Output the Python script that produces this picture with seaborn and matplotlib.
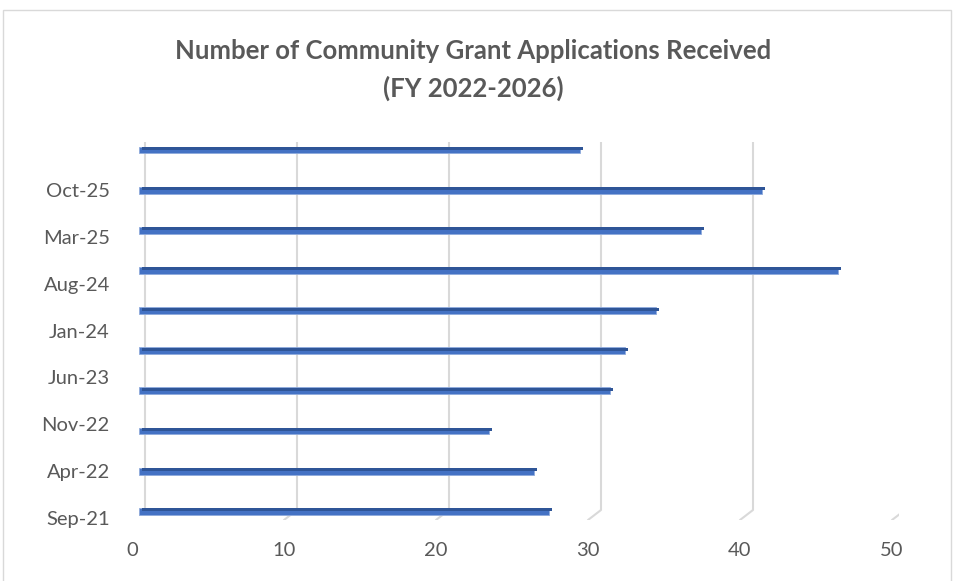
import matplotlib
matplotlib.use("Agg")
import matplotlib.pyplot as plt
import matplotlib.transforms as mtransforms
from matplotlib.patches import Rectangle
import seaborn as sns
import pandas as pd
import numpy as np

# ---- data ----
bar_dates = ["Oct-21", "Apr-22", "Oct-22", "Apr-23", "Oct-23",
             "Apr-24", "Oct-24", "Apr-25", "Oct-25", "Apr-26"]
applications = [27, 26, 23, 31, 32, 34, 46, 37, 41, 29]
tick_dates = ["Sep-21", "Apr-22", "Nov-22", "Jun-23", "Jan-24",
              "Aug-24", "Mar-25", "Oct-25"]
x_ticks = [0, 10, 20, 30, 40, 50]
title = "Number of Community Grant Applications Received\n(FY 2022-2026)"

BASE = pd.Timestamp("2021-09-01")


def month_index(labels):
    d = pd.to_datetime(labels, format="%b-%y")
    return np.array([(t.year - BASE.year) * 12 + t.month - BASE.month for t in d])


df = pd.DataFrame({"date": bar_dates,
                   "month": month_index(bar_dates),
                   "applications": applications})

sns.set_theme(style="white")
plt.rcParams["font.family"] = ["Lato", "DejaVu Sans"]

DPI = 100
fig = plt.figure(figsize=(9.55, 5.81), dpi=DPI)
W, H = 955, 581
ax = fig.add_axes([139 / W, 1 - 520 / H, (899 - 139) / W, (520 - 142) / H])

grid_col = "#D9D9D9"
text_col = "#595959"

# 3D-like gridlines: back wall line plus slanted floor tail
back = mtransforms.offset_copy(ax.get_xaxis_transform(), fig=fig, x=6, y=0, units="dots")
for t in x_ticks:
    ax.plot([t, t], [10 / 378, 1], color=grid_col, lw=1.5, transform=back,
            solid_capstyle="butt", zorder=0)
    ax.plot([t, t - 13 / 15.2], [10 / 378, 0], color=grid_col, lw=1.5,
            transform=back, zorder=0)

# bars (front face)
sns.barplot(data=df, x="applications", y="month", orient="h", native_scale=True,
            width=0.17, color="#4472C4", saturation=1, ax=ax, zorder=3,
            edgecolor="#8FAADC", linewidth=0.6)
# darker top face of each bar, shifted toward the back
top = mtransforms.offset_copy(ax.transData, fig=fig, x=3, y=1.5, units="dots")
ax.barh(df["month"], df["applications"], height=0.45, color="#2F5597",
        transform=top, zorder=4, linewidth=0)

ax.set_xlim(0, 50)
ax.set_ylim(-0.3, 56.2)
ax.set_xticks(x_ticks)
ax.set_xticklabels([str(v) for v in x_ticks])
ax.set_yticks(month_index(tick_dates))
ax.set_yticklabels(tick_dates)
ax.set_xlabel("")
ax.set_ylabel("")
ax.grid(False)
for s in ax.spines.values():
    s.set_visible(False)
ax.tick_params(axis="x", length=0, pad=16, labelsize=14.5, labelcolor=text_col)
ax.tick_params(axis="y", length=0, pad=21, labelsize=14.5, labelcolor=text_col)
shift = mtransforms.ScaledTranslation(-7 / DPI, 0, fig.dpi_scale_trans)
for lab in ax.get_xticklabels():
    lab.set_transform(lab.get_transform() + shift)

fig.text(473 / W, 1 - 70 / H, title, ha="center", va="center", fontsize=18.5,
         fontweight="bold", color=text_col, linespacing=1.62)

fig.patches.append(Rectangle((3 / W, -0.05), (951 - 3) / W, 1.05 - 10 / H + 0.0,
                             transform=fig.transFigure, fill=False,
                             edgecolor=grid_col, lw=1))

fig.savefig("out.png", dpi=DPI)
